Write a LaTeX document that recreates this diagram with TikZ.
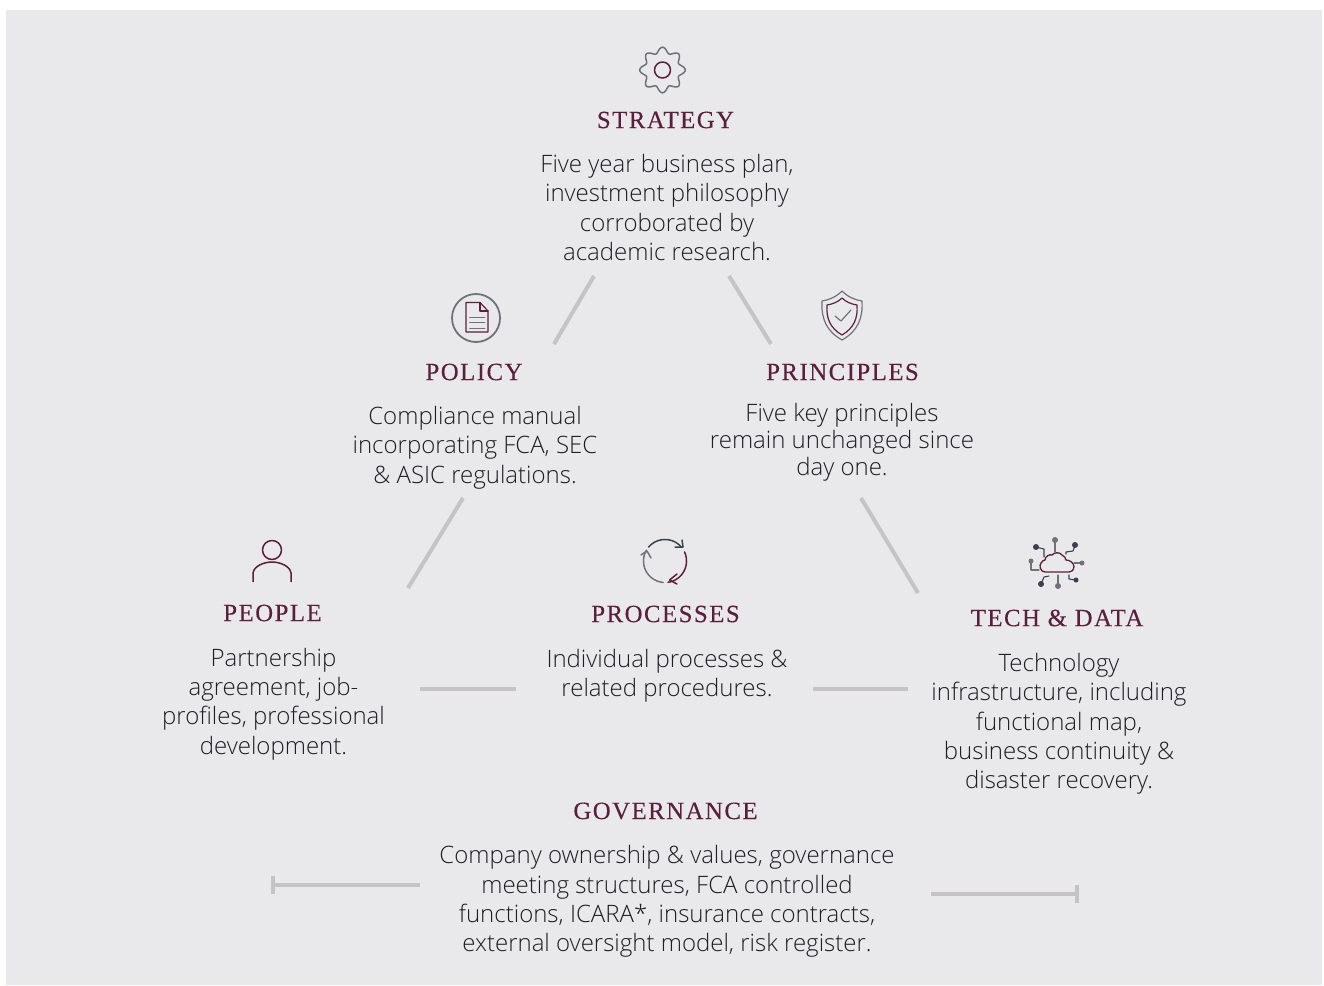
\documentclass[tikz,border=0pt]{standalone}
\usepackage{fontspec}
\setmainfont{Open Sans}[UprightFont=* Light]
\newfontfamily\headfont[LetterSpace=6,FakeBold=0.25]{Liberation Serif}
\definecolor{panel}{HTML}{E9E9EB}
\definecolor{bodytext}{HTML}{1E1E23}
\definecolor{maroon}{HTML}{5A1F3C}
\definecolor{slate}{HTML}{6F7278}
\definecolor{navy}{HTML}{3B4050}
\definecolor{rulegrey}{HTML}{C5C3C6}
\tikzset{
  body/.style={inner sep=0pt,align=center,text=bodytext,font=\fontsize{24}{29.3}\selectfont},
  bodytight/.style={body,font=\fontsize{24}{27}\selectfont},
  head/.style={inner sep=0pt,text=maroon,font=\headfont\fontsize{24.8}{28}\selectfont},
  link/.style={draw=rulegrey,line width=4pt},
  ico/.style={line width=1.5pt,line cap=round,line join=round},
  dot/.style={circle,inner sep=0pt,minimum size=6pt,fill=#1},
}
\begin{document}
\begin{tikzpicture}[x=1pt,y=-1pt]
\useasboundingbox (0,0) rectangle (1324,985);
\fill[panel] (6,10) rectangle (1322,985);
% headings
\node[head] (hstrategy) at (665.5,120) {STRATEGY};
\node[head] (hpolicy) at (474,372) {POLICY};
\node[head] (hprinciples) at (842.5,372) {PRINCIPLES};
\node[head] (hpeople) at (272.5,613) {PEOPLE};
\node[head] (hprocesses) at (665.5,614) {PROCESSES};
\node[head] (htech) at (1057,618) {TECH \& DATA};
\node[head] (hgov) at (665.5,811) {GOVERNANCE};
% text
\node[body] (tstrategy) at (667,207.5) {Five year business plan,\\investment philosophy\\corroborated by\\academic research.};
\node[body] (tpolicy) at (475,447.5) {Compliance manual\\incorporating FCA, SEC\\\& ASIC regulations.};
\node[bodytight] (tprinciples) at (842,442.5) {Five key principles\\remain unchanged since\\day one.};
\node[body] (tpeople) at (273.5,704) {Partnership\\agreement, job-\\profiles, professional\\development.};
\node[body] (tprocesses) at (667,675.5) {Individual processes \&\\related procedures.};
\node[body] (ttech) at (1059,724) {Technology\\infrastructure, including\\functional map,\\business continuity \&\\disaster recovery.};
\node[body] (tgov) at (667,901.5) {Company ownership \& values, governance\\meeting structures, FCA controlled\\functions, ICARA*, insurance contracts,\\external oversight model, risk register.};
% connectors
\coordinate (a1) at (594,276); \coordinate (a2) at (554,344);
\coordinate (b1) at (729,276); \coordinate (b2) at (771,344);
\coordinate (c1) at (463,498); \coordinate (c2) at (408,588);
\coordinate (d1) at (861,498); \coordinate (d2) at (918,593);
\coordinate (e1) at (420,689); \coordinate (e2) at (516,689);
\coordinate (f1) at (813,689); \coordinate (f2) at (908,689);
\coordinate (g1) at (273,885); \coordinate (g2) at (420,885);
\coordinate (g3) at (273,876); \coordinate (g4) at (273,894);
\coordinate (h1) at (931,894); \coordinate (h2) at (1077,894);
\coordinate (h3) at (1077,885); \coordinate (h4) at (1077,903);
\foreach \p/\q in {a1/a2,b1/b2,c1/c2,d1/d2,e1/e2,f1/f2,g1/g2,g3/g4,h1/h2,h3/h4}
  \draw[link] (\p) -- (\q);
% gear
\draw[ico,draw=slate,smooth,samples=97,domain=0:360] plot ({662.5+(20+2.8*cos(8*\x))*cos(\x+90)},{70-(20+2.8*cos(8*\x))*sin(\x+90)}) -- cycle;
\draw[ico,draw=maroon] (662.5,70) circle (8);
% policy
\draw[ico,draw=slate,line width=1.8pt] (476,318) circle (24);
\draw[ico,draw=maroon,line width=1.2pt] (466,302.5) -- (480,302.5) -- (488,311) -- (488,332) -- (466,332) -- cycle;
\draw[ico,draw=maroon,line width=1.2pt] (480,302.5) -- (480,311) -- (488,311);
\draw[ico,draw=slate,line width=0.9pt] (469.5,317.5) -- (485,317.5) (469.5,322.5) -- (485,322.5) (469.5,328) -- (485,328);
% shield
\draw[ico,draw=slate,line width=1.2pt] (842,291) .. controls (836,297) and (829,300) .. (822,301) .. controls (821,318) and (826,331) .. (842,340) .. controls (858,331) and (863,318) .. (862,301) .. controls (855,300) and (848,297) .. (842,291) -- cycle;
\draw[ico,draw=maroon,line width=1.2pt] (842,298) .. controls (838,302) and (833,304) .. (827,305) .. controls (826,318) and (830,328) .. (842,335) .. controls (854,328) and (858,318) .. (857,305) .. controls (851,304) and (846,302) .. (842,298) -- cycle;
\draw[ico,draw=slate,line width=1.2pt] (835,316) -- (841,321) -- (851,310);
% person
\draw[ico,draw=maroon] (272,550) circle (9.5);
\draw[ico,draw=maroon,line cap=butt] (253,582) -- (253,573) .. controls (254,566) and (264,562) .. (272,562) .. controls (280,562) and (290,566) .. (291,573) -- (291,582);
% cycle
\draw[ico,draw=navy,domain=140:42,samples=30] plot ({665+21.5*cos(\x)},{561-21.5*sin(\x)});
\draw[ico,draw=navy] (675,547) -- (683,547) -- (682,540);
\draw[ico,draw=maroon,domain=25:-82,samples=30] plot ({665+21.5*cos(\x)},{561-21.5*sin(\x)});
\draw[ico,draw=maroon] (677,574) -- (669.5,580) -- (677,584);
\draw[ico,draw=slate,domain=265:150,samples=30] plot ({665+21.5*cos(\x)},{561-21.5*sin(\x)});
\draw[ico,draw=slate] (641,555) -- (647,551) -- (651,558);
% cloud
\draw[ico,draw=maroon,line width=1.3pt] (1045,572) .. controls (1040,572) and (1039,565) .. (1041,563) .. controls (1042,561) and (1044,560) .. (1045,560) .. controls (1045,556) and (1050,554) .. (1052,555) .. controls (1054,552) and (1060,552) .. (1062,555) .. controls (1064,556) and (1066,558) .. (1066,560) .. controls (1070,560) and (1074,563) .. (1074,567) .. controls (1074,570) and (1072,572) .. (1069,572) -- cycle;
\draw[ico,draw=slate,line width=1.1pt] (1055,552) -- (1055,540);
\draw[ico,draw=navy,line width=1.1pt] (1044,557) -- (1044,549) -- (1036,547);
\draw[ico,draw=navy,line width=1.1pt] (1066,554) -- (1066,552) -- (1073,551) -- (1075,545);
\draw[ico,draw=slate,line width=1.1pt] (1039,570) -- (1031,570) -- (1031,561);
\draw[ico,draw=slate,line width=1.1pt] (1074,563) -- (1082,563);
\draw[ico,draw=navy,line width=1.1pt] (1069,575) -- (1069,579) -- (1076,580);
\draw[ico,draw=slate,line width=1.1pt] (1058,575) -- (1058,586);
\draw[ico,draw=navy,line width=1.1pt] (1049,576) -- (1044,577) -- (1041,584);
\node[dot=slate] (n1) at (1055,540) {};
\node[dot=navy] (n2) at (1036,547) {};
\node[dot=navy] (n3) at (1075,545) {};
\node[dot=slate,minimum size=5pt] (n4) at (1031,561) {};
\node[dot=slate,minimum size=5pt] (n5) at (1082,563) {};
\node[dot=navy,minimum size=5pt] (n6) at (1076,580) {};
\node[dot=slate] (n7) at (1058,586) {};
\node[dot=navy] (n8) at (1041,584) {};
\end{tikzpicture}
\end{document}
